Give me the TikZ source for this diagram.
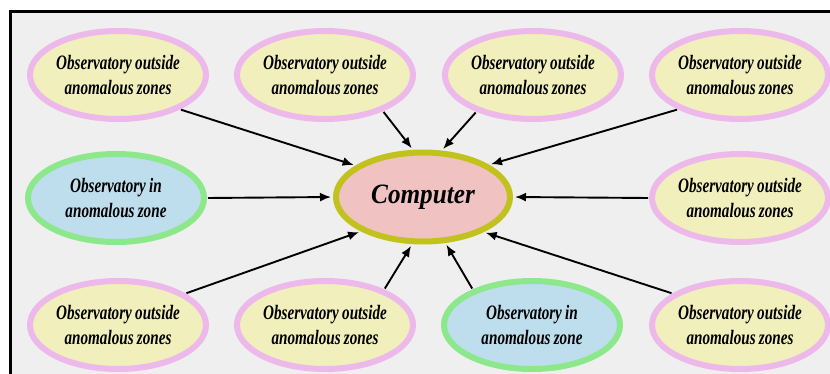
\documentclass[tikz,border=0pt]{standalone}
\usepackage{fontspec}
\usetikzlibrary{shapes.geometric,arrows.meta}
\newfontfamily\obsfont[FakeStretch=0.74,WordSpace=0.85]{Liberation Serif}
\newfontfamily\compfont[FakeStretch=0.9]{Liberation Serif}
\definecolor{bgc}{HTML}{EFEFEF}
\definecolor{pinkb}{HTML}{EDB9EA}
\definecolor{yelf}{HTML}{F1EFBC}
\definecolor{greenb}{HTML}{8CE88A}
\definecolor{bluef}{HTML}{BEDDED}
\definecolor{compf}{HTML}{F0C2C2}
\definecolor{compb}{HTML}{C2C21E}
\tikzset{
  obs/.style={ellipse, line width=6pt, minimum width=176pt, minimum height=88pt,
    inner sep=0pt, align=center, font=\obsfont\bfseries\itshape\fontsize{20.5}{25}\selectfont},
  outz/.style={obs, draw=pinkb, fill=yelf},
  inz/.style={obs, draw=greenb, fill=bluef},
  compnode/.style={ellipse, line width=6pt, minimum width=174pt, minimum height=89pt,
    draw=compb, fill=compf, font=\compfont\bfseries\itshape\fontsize{28}{30}\selectfont},
  arr/.style={-{Latex[length=11pt,width=9pt]}, line width=1.9pt, black, shorten >=2pt, shorten <=1pt}
}
\begin{document}
\begin{tikzpicture}[x=1pt,y=-1pt]
\useasboundingbox (0,0) rectangle (830,374);
\fill[white] (0,0) rectangle (830,374);
\fill[bgc] (10,12) rectangle (830,374);
\draw[line width=3pt] (10,374) -- (10,12) -- (830,12);

\node[compnode] (comp) at (423,197) {Computer};

\node[outz] (t1) at (118,75) {Observatory outside\\anomalous zones};
\node[outz] (t2) at (325,75) {Observatory outside\\anomalous zones};
\node[outz] (t3) at (533,75) {Observatory outside\\anomalous zones};
\node[outz] (t4) at (740,75) {Observatory outside\\anomalous zones};

\node[inz] (ml) at (116,198) {Observatory in\\anomalous zone};
\node[outz] (mr) at (740,198) {Observatory outside\\anomalous zones};

\node[outz] (b1) at (118,325) {Observatory outside\\anomalous zones};
\node[outz] (b2) at (325,325) {Observatory outside\\anomalous zones};
\node[inz] (b3) at (532,325) {Observatory in\\anomalous zone};
\node[outz] (b4) at (740,325) {Observatory outside\\anomalous zones};

\draw[arr] (t1.-29) -- (comp.155);
\draw[arr] (t2.-32) -- (comp.102);
\draw[arr] (t3.213) -- (comp.68);
\draw[arr] (t4.209) -- (comp.26);
\draw[arr] (ml.east) -- (comp.west);
\draw[arr] (mr.west) -- (comp.east);
\draw[arr] (b1.25) -- (comp.209);
\draw[arr] (b2.31) -- (comp.257);
\draw[arr] (b3.149) -- (comp.296);
\draw[arr] (b4.155) -- (comp.330);
\end{tikzpicture}
\end{document}
